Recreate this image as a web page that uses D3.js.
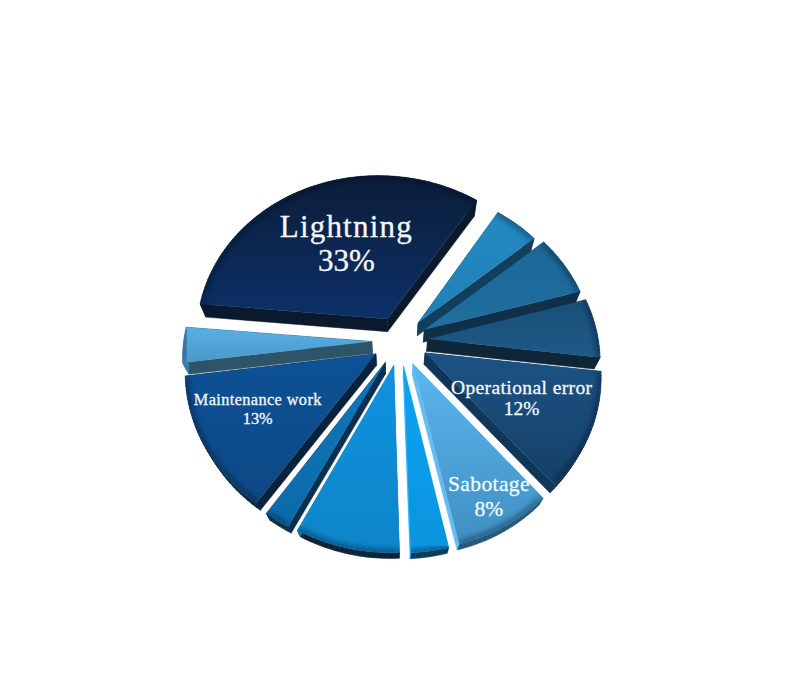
<!DOCTYPE html>
<html><head><meta charset="utf-8">
<script src="https://cdn.jsdelivr.net/npm/d3@7/dist/d3.min.js"></script>
<style>html,body{margin:0;background:#fff}svg{display:block}</style></head>
<body><svg id="c" width="800" height="700"></svg>
<script>
// --- data (in clockwise order, starting with the largest slice)
const causes = ["Lightning","Other 1","Other 2","Other 3","Operational error","Sabotage","Other 4","Other 5","Other 6","Maintenance work","Other 7"];
const shares = [33,4.8,6.5,6.2,12,8,3,8.1,2,13,3.4];
const shown  = [true,false,false,false,true,true,false,false,false,true,false];
// --- style
const faceTop  = ["#0b1d38","#2489c4","#1c6797","#194f78","#1b5385","#5cb6ee","#0da3f5","#0f92e0","#0d77bd","#0c5296","#58b0e6"];
const faceBot  = ["#0c3068","#2180b5","#1f6f9f","#1c5a86","#153f66","#3f8fc2","#0b93dc","#0d85c8","#0c6aa8","#0d4884","#4a98c8"];
const sideCol  = ["#0a192c","#123f5e","#10304a","#0f2639","#10365a","#62bdf2","#18b4ff","#0f6fa8","#0a3050","#0a233c","#2d5468"];
const wallCol  = ["#0a192c","#123f5e","#13405f","#12374f","#0e2c48","#24557a","#0a3a5c","#0a2236","#0a2c48","#0a233c","#3b7ea8"];
const reach    = [1.03,0.95,0.98,0.99,1,1,1,1,1,1,1];
const fontPx   = [31,0,0,0,19.5,21.5,0,0,0,16.3,0];
const trackPx  = [1.2,0,0,0,0.4,0.4,0,0,0,0.4,0];
const labelR   = [0.602,0,0,0,0.58,0.806,0,0,0,0.68,0];
const labelDA  = [2.7,0,0,0,-2.3,-1.3,0,0,0,4.9,0];
const lineGap  = [34,0,0,0,21,25,0,0,0,19,0];

const cx=400, cy=341, R=180, EX=28, K=0.887, QX=0.000185, QY=0.000629, SH=0.028;
const VX=393, VY=745, F=0.03;
const rad=d=>d*Math.PI/180;

const arcs = d3.pie().sort(null).startAngle(rad(-85)).endAngle(rad(275))(shares);

function project(a,r,mid,e){
  const u=r*Math.sin(a)+e*Math.sin(mid), v=-r*Math.cos(a)-e*Math.cos(mid);
  const s=1/(1+QX*u-QY*v), y=K*v*s;
  return [cx+u*s+SH*y, cy+y];
}
const lower=p=>[p[0]+(VX-p[0])*F, p[1]+(VY-p[1])*F];
const line=d3.line();
const svg=d3.select("#c");
const defs=svg.append("defs");
defs.append("filter").attr("id","soft").attr("x","-20%").attr("y","-20%").attr("width","140%").attr("height","140%")
  .append("feGaussianBlur").attr("stdDeviation",3);

const slices=arcs.map((d,i)=>{
  const mid=(d.startAngle+d.endAngle)/2;
  const n=Math.max(4,Math.round((d.endAngle-d.startAngle)/rad(1.5)));
  const rim=d3.range(n+1).map(j=>project(d.startAngle+(d.endAngle-d.startAngle)*j/n,R*reach[i],mid,EX));
  const apex=project(0,0,mid,EX);
  return {i,mid,d,rim,apex,top:[apex,...rim],depth:project(mid,R*0.45,mid,EX)[1]};
});

slices.slice().sort((a,b)=>a.depth-b.depth).forEach(s=>{
  const g=svg.append("g").attr("class","slice");
  const i=s.i, low=s.top.map(lower);
  const ys=s.top.map(p=>p[1]);
  const gid="grad"+i;
  const lg=defs.append("linearGradient").attr("id",gid).attr("gradientUnits","userSpaceOnUse")
    .attr("x1",0).attr("x2",0).attr("y1",d3.min(ys)).attr("y2",d3.max(ys));
  lg.append("stop").attr("offset",0).attr("stop-color",faceTop[i]);
  lg.append("stop").attr("offset",1).attr("stop-color",faceBot[i]);
  const N=s.top.length;
  for(let j=0;j<N;j++){
    const k=(j+1)%N, radial=(j===0||j===N-1);
    g.append("path").attr("d",line([s.top[j],s.top[k],low[k],low[j]])+"Z")
      .attr("fill",radial?sideCol[i]:wallCol[i]).attr("stroke",radial?sideCol[i]:wallCol[i]).attr("stroke-width",0.5);
  }
  g.append("path").attr("d",line(s.top)+"Z").attr("fill",`url(#${gid})`);
  const cid="clip"+i;
  defs.append("clipPath").attr("id",cid).append("path").attr("d",line(s.top)+"Z");
  g.append("g").attr("clip-path",`url(#${cid})`).append("path").attr("d",line(s.rim))
    .attr("fill","none").attr("stroke","#04101e").attr("stroke-width",5).attr("stroke-opacity",0.55).attr("filter","url(#soft)");
});

slices.filter(s=>shown[s.i]).forEach(s=>{
  const i=s.i, p=project(s.mid+rad(labelDA[i]),R*labelR[i],s.mid,EX);
  const t=svg.append("text").attr("x",p[0]).attr("y",p[1]).attr("text-anchor","middle")
    .attr("fill","#f4f8fb").attr("stroke","#f4f8fb").attr("stroke-width",0.3)
    .attr("font-family","'Liberation Serif',serif").attr("font-size",fontPx[i]);
  t.append("tspan").attr("x",p[0]).attr("letter-spacing",trackPx[i]).text(causes[i]);
  t.append("tspan").attr("x",p[0]).attr("dy",lineGap[i]).text(Math.round(shares[i])+"%");
});
</script></body></html>
